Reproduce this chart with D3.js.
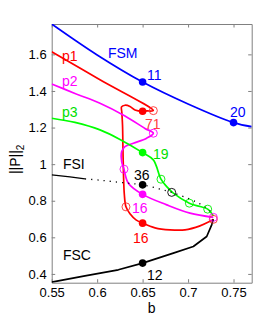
<!DOCTYPE html>
<html>
<head>
<meta charset="utf-8">
<script src="https://cdn.jsdelivr.net/npm/d3@7"></script>
<style>
  body { margin: 0; background: #fff; }
  svg { display: block; font-family: Arial, "Liberation Sans", sans-serif; }
</style>
</head>
<body>
<div id="chart"></div>
<script>
// ---- data (b, ||P||_2) ----
const xTicks = [0.55, 0.6, 0.65, 0.7, 0.75];
const yTicks = [0.4, 0.6, 0.8, 1, 1.2, 1.4, 1.6];

const fsm = [[0.55,1.766],[0.60,1.597],[0.65,1.449],[0.70,1.329],[0.75,1.227],[0.77,1.205]];

const p1 = [[0.55,1.6147],[0.6031,1.4618],[0.6618,1.2925],[0.6548,1.2908],[0.65,1.2892],
  [0.6416,1.2963],[0.6361,1.3154],[0.6306,1.3220],[0.6268,1.3127],[0.6271,1.2854],
  [0.6279,1.2144],[0.6284,1.0779],[0.6290,0.9413],[0.6299,0.8341],[0.6317,0.7666],
  [0.6361,0.7283],[0.6427,0.6955],[0.65,0.6775],[0.6636,0.6519],[0.6801,0.6409],
  [0.6966,0.6409],[0.7131,0.6628],[0.7241,0.6874],[0.7278,0.6983]];

const p2 = [[0.55,1.4383],[0.5756,1.3864],[0.6031,1.3329],[0.6306,1.2635],[0.6526,1.1953],
  [0.6618,1.1691],[0.6545,1.1418],[0.6398,1.1144],[0.6306,1.0959],[0.6270,1.0686],
  [0.6270,1.0140],[0.6295,0.9724],[0.6343,0.8960],[0.65,0.8348],[0.6765,0.7775],
  [0.7021,0.7321],[0.7278,0.7092]];

const p3 = [[0.55,1.2510],[0.5756,1.2280],[0.6031,1.1871],[0.6251,1.1352],[0.65,1.0631],
  [0.6618,1.0232],[0.6702,0.9178],[0.6765,0.8774],[0.6838,0.8414],[0.7014,0.7867],
  [0.7131,0.7682],[0.7216,0.7540],[0.7278,0.7174]];

const fsi = [[0.55,0.9413],[0.5701,0.9304],[0.5866,0.9194],[0.6031,0.9124],[0.6196,0.9031],
  [0.6361,0.8949],[0.65,0.8867],[0.6695,0.8632],[0.6820,0.8457],[0.6999,0.8130],
  [0.7131,0.7829],[0.7241,0.7447],[0.7278,0.7174]];
const fsiSolidEnd = 2;   // stable part up to this index, dotted after

const fsc = [[0.55,0.3553],[0.5866,0.3897],[0.6233,0.4225],[0.65,0.4591],[0.6838,0.5137],
  [0.7058,0.5497],[0.7205,0.6043],[0.7260,0.6682],[0.7278,0.6983]];

// filled markers
const dots = [
  {b:0.65, v:1.449,  c:'#0000ff'}, {b:0.75, v:1.227, c:'#0000ff'},
  {b:0.65, v:1.2892, c:'#ff0000'}, {b:0.65, v:0.6775, c:'#ff0000'},
  {b:0.65, v:0.8348, c:'#ff00ff'}, {b:0.65, v:1.0631, c:'#00ff00'},
  {b:0.65, v:0.8867, c:'#000000'}, {b:0.65, v:0.4591, c:'#000000'}
];
// open (bifurcation) markers
const rings = [
  {b:0.6618, v:1.2925, c:'#ff3030'}, {b:0.6317, v:0.7666, c:'#ff3030'}, {b:0.7278, v:0.6983, c:'#ff3030'},
  {b:0.6618, v:1.1691, c:'#ff00ff'}, {b:0.6295, v:0.9724, c:'#ff00ff'}, {b:0.7278, v:0.7092, c:'#ff00ff'},
  {b:0.6702, v:0.9178, c:'#00ee00'}, {b:0.7014, v:0.7867, c:'#00ee00'}, {b:0.7216, v:0.7540, c:'#00ee00'},
  {b:0.6820, v:0.8457, c:'#000000'}
];
// text labels (left/baseline in data units)
const labels = [
  {t:'FSM', b:0.6119, v:1.5803, c:'#0000ff'},
  {t:'p1',  b:0.5613, v:1.5612, c:'#ff0000'},
  {t:'p2',  b:0.5613, v:1.4274, c:'#ff00ff'},
  {t:'p3',  b:0.5613, v:1.2581, c:'#00e000'},
  {t:'FSI', b:0.5624, v:0.9741, c:'#000000'},
  {t:'FSC', b:0.5624, v:0.4744, c:'#000000'},
  {t:'11',  b:0.6548, v:1.4602, c:'#0000ff'},
  {t:'20',  b:0.7461, v:1.2581, c:'#0000ff'},
  {t:'71',  b:0.6526, v:1.1925, c:'#ff4040'},
  {t:'19',  b:0.6614, v:1.0287, c:'#00e000'},
  {t:'36',  b:0.6405, v:0.9140, c:'#000000'},
  {t:'16',  b:0.6383, v:0.7338, c:'#ff00ff'},
  {t:'16',  b:0.6394, v:0.5700, c:'#ff0000'},
  {t:'12',  b:0.6548, v:0.3678, c:'#000000'}
];

// ---- layout ----
const W = 278, H = 322;
const L = 51.7, R = 251.7, T = 24, B = 282.7;

const svg = d3.select('#chart').append('svg')
  .attr('width', W).attr('height', H);

const x = d3.scaleLinear().domain([0.55, 0.77]).range([L, R]);
const y = d3.scaleLinear().domain([0.352, 1.766]).range([B, T]);

svg.append('defs').append('clipPath').attr('id', 'plot')
  .append('rect').attr('x', L).attr('y', T).attr('width', R - L).attr('height', B - T);

// axes (ticks inward, box on)
const axisCol = '#808080';
function styleAxis(g) {
  g.selectAll('path.domain').attr('stroke', axisCol);
  g.selectAll('.tick line').attr('stroke', axisCol);
  g.selectAll('.tick text').attr('fill', '#000').attr('font-size', 13)
    .attr('font-family', 'Arial, "Liberation Sans", sans-serif');
}
svg.append('g').attr('transform', `translate(0,${B})`)
  .call(d3.axisBottom(x).tickValues(xTicks).tickFormat(d => String(d))
    .tickSizeInner(-3.5).tickSizeOuter(0).tickPadding(5))
  .call(styleAxis);
svg.append('g').attr('transform', `translate(0,${T})`)
  .call(d3.axisTop(x).tickValues(xTicks).tickFormat('')
    .tickSizeInner(-3.5).tickSizeOuter(0))
  .call(styleAxis);
svg.append('g').attr('transform', `translate(${L},0)`)
  .call(d3.axisLeft(y).tickValues(yTicks).tickFormat(d => String(d))
    .tickSizeInner(-3.5).tickSizeOuter(0).tickPadding(5))
  .call(styleAxis);
svg.append('g').attr('transform', `translate(${R},0)`)
  .call(d3.axisRight(y).tickValues(yTicks).tickFormat('')
    .tickSizeInner(-3.5).tickSizeOuter(0))
  .call(styleAxis);

// axis titles
svg.append('text').attr('x', (L + R) / 2).attr('y', 313)
  .attr('text-anchor', 'middle').attr('font-size', 14).text('b');
const yl = svg.append('text')
  .attr('transform', `translate(20,${(T + B) / 2 + 6}) rotate(-90)`)
  .attr('text-anchor', 'middle').attr('font-size', 14);
yl.append('tspan').text('||P||');
yl.append('tspan').attr('font-size', 10).attr('dy', 4).text('2');

// curves
const plot = svg.append('g').attr('clip-path', 'url(#plot)');
const smooth = d3.line().x(d => x(d[0])).y(d => y(d[1])).curve(d3.curveCatmullRom.alpha(0.5));
const straight = d3.line().x(d => x(d[0])).y(d => y(d[1]));

const curves = [
  {d: fsm, c: '#0000ff', gen: smooth},
  {d: p1,  c: '#ff0000', gen: smooth},
  {d: p2,  c: '#ff00ff', gen: smooth},
  {d: p3,  c: '#00ff00', gen: smooth},
  {d: fsc, c: '#000000', gen: straight}
];
plot.selectAll('path.curve').data(curves).join('path')
  .attr('class', 'curve')
  .attr('d', d => d.gen(d.d))
  .attr('fill', 'none').attr('stroke', d => d.c)
  .attr('stroke-width', 1.7).attr('stroke-linejoin', 'round');

// FSI: stable (solid) then unstable (dotted)
plot.append('path').attr('d', straight(fsi.slice(0, fsiSolidEnd + 1)))
  .attr('fill', 'none').attr('stroke', '#000').attr('stroke-width', 1.4);
plot.append('path').attr('d', smooth(fsi.slice(fsiSolidEnd)))
  .attr('fill', 'none').attr('stroke', '#000').attr('stroke-width', 1.3)
  .attr('stroke-dasharray', '1.2,5');

// markers
plot.selectAll('circle.ring').data(rings).join('circle')
  .attr('class', 'ring')
  .attr('cx', d => x(d.b)).attr('cy', d => y(d.v)).attr('r', 4)
  .attr('fill', 'none').attr('stroke', d => d.c).attr('stroke-width', 0.9);
plot.selectAll('circle.dot').data(dots).join('circle')
  .attr('class', 'dot')
  .attr('cx', d => x(d.b)).attr('cy', d => y(d.v)).attr('r', 3.8)
  .attr('fill', d => d.c);

// labels
svg.selectAll('text.lab').data(labels).join('text')
  .attr('class', 'lab')
  .attr('x', d => x(d.b)).attr('y', d => y(d.v))
  .attr('font-size', 14).attr('fill', d => d.c)
  .text(d => d.t);
</script>
</body>
</html>
